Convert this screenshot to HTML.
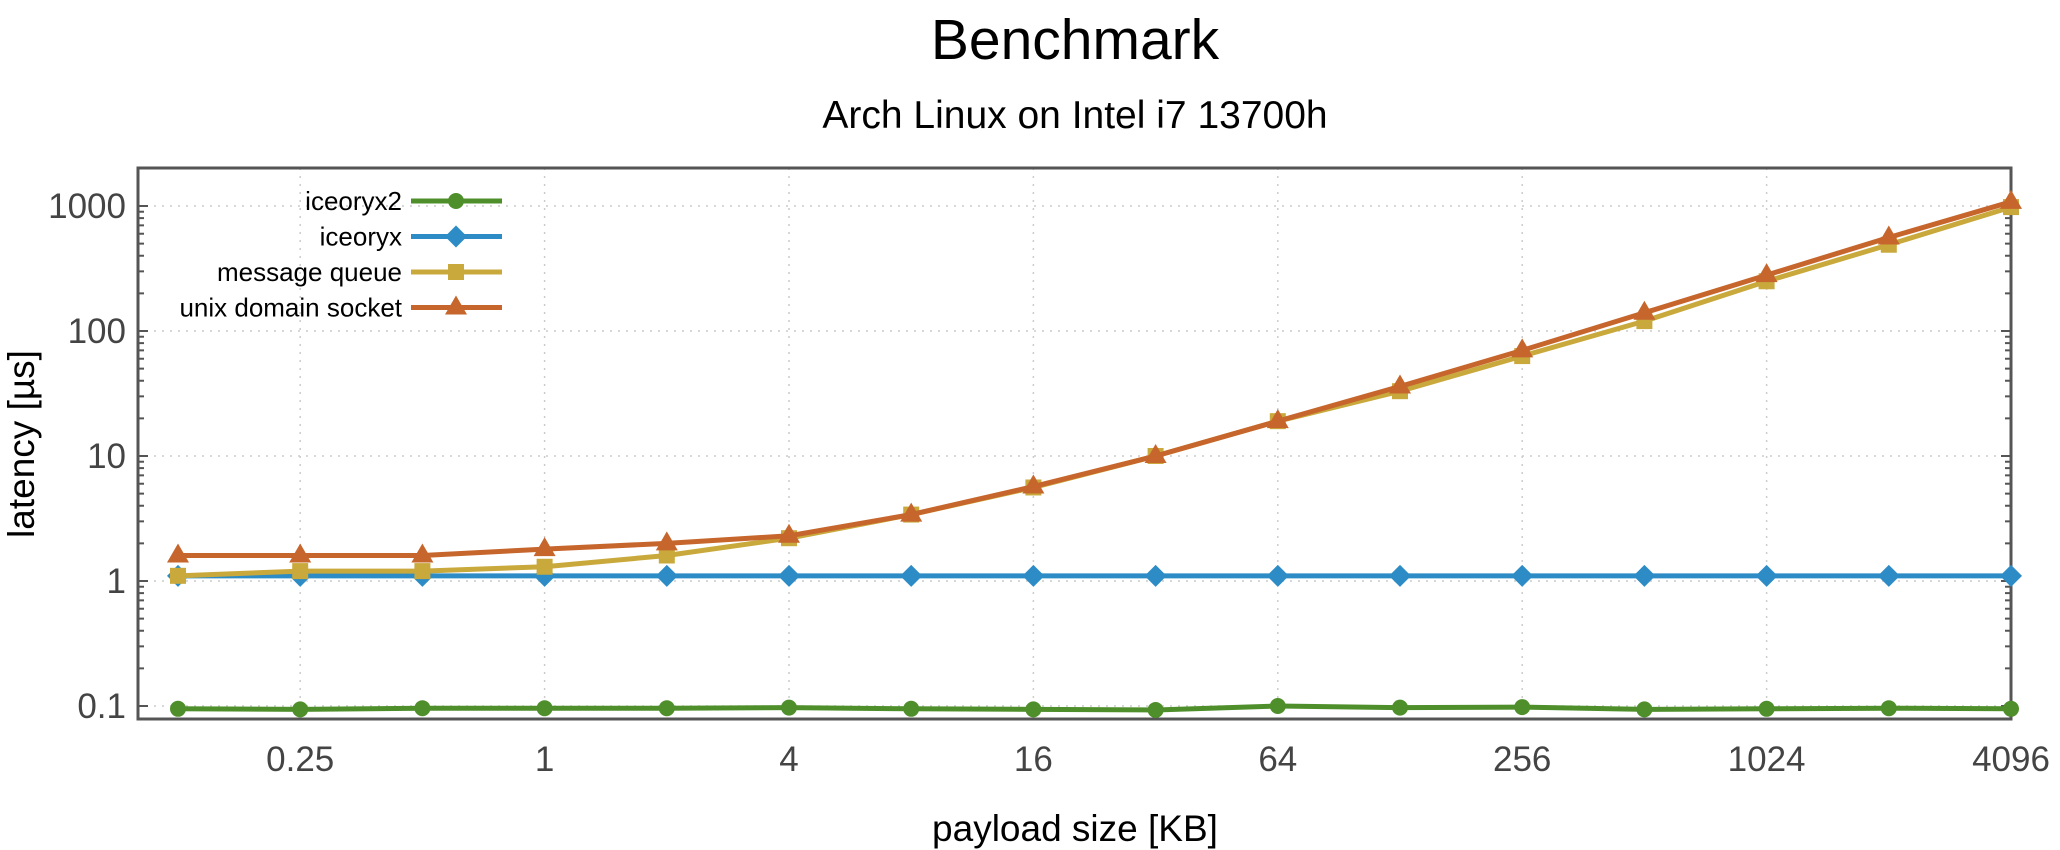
<!DOCTYPE html>
<html><head><meta charset="utf-8"><style>
html,body{margin:0;padding:0;background:#fff;}
svg{display:block;font-family:"Liberation Sans",sans-serif;}
</style></head><body>
<svg id="chart" width="2060" height="850" viewBox="0 0 2060 850" xmlns="http://www.w3.org/2000/svg">
<text x="1075" y="59" font-size="57" text-anchor="middle" fill="#000">Benchmark</text>
<text x="1075" y="128" font-size="39" text-anchor="middle" fill="#000">Arch Linux on Intel i7 13700h</text>
<g id="grid"></g><g id="axes"></g><g id="series"></g><g id="legend"></g>
<text x="1075" y="841" font-size="37" text-anchor="middle" fill="#000">payload size [KB]</text>
<text transform="translate(34,444) rotate(-90)" font-size="37" text-anchor="middle" fill="#000">latency [µs]</text>
</svg>
<script>
const payloads = [0.125,0.25,0.5,1,2,4,8,16,32,64,128,256,512,1024,2048,4096];
const iceoryx2 = [0.095,0.094,0.096,0.096,0.096,0.097,0.095,0.094,0.093,0.1,0.097,0.098,0.094,0.095,0.096,0.095];
const iceoryx = [1.1,1.1,1.1,1.1,1.1,1.1,1.1,1.1,1.1,1.1,1.1,1.1,1.1,1.1,1.1,1.1];
const messageQueue = [1.1,1.2,1.2,1.3,1.6,2.2,3.4,5.6,10,19,33,63,120,250,490,980];
const unixSocket = [1.6,1.6,1.6,1.8,2.0,2.3,3.4,5.7,10,19,36,70,140,280,560,1080];
const xTickLabels = ["0.25","1","4","16","64","256","1024","4096"];
const yTickLabels = ["0.1","1","10","100","1000"];

const NS="http://www.w3.org/2000/svg";
const L=138,R=2011,T=168,B=719;
function xs(v){return 2011-(Math.log2(4096)-Math.log2(v))*122.2;}
function ys(v){return 206+(3-Math.log10(v))*125;}
function mk(tag,attrs,parent){const e=document.createElementNS(NS,tag);for(const k in attrs)e.setAttribute(k,attrs[k]);parent.appendChild(e);return e;}
const grid=document.getElementById('grid'),axes=document.getElementById('axes'),ser=document.getElementById('series'),leg=document.getElementById('legend');

xTickLabels.forEach(t=>{const v=parseFloat(t),x=xs(v);
 const g=mk('line',{x1:x,x2:x,y1:T,y2:B,stroke:'#ccc','stroke-width':1.5,'stroke-dasharray':'2,6'},grid);
 
 
 const tx=mk('text',{x:x,y:771,'font-size':35,'text-anchor':'middle',fill:'#444'},axes);
 tx.textContent=t;
 
 
});
yTickLabels.forEach(t=>{const v=parseFloat(t),y=ys(v);
 const g=mk('line',{x1:L,x2:R,y1:y,y2:y,stroke:'#ccc','stroke-width':1.5,'stroke-dasharray':'2,6'},grid);
 
 
 const tx=mk('text',{x:126,y:y+12,'font-size':35,'text-anchor':'end',fill:'#444'},axes);
 tx.textContent=t;
 
 
 for(let m=1;m<=9;m++){const mv=v*m,my=ys(mv);if(my<T||my>B)continue;const len=m===1?10:6;
  mk('line',{x1:L,x2:L+len,y1:my,y2:my,stroke:'#555','stroke-width':2},axes);
  mk('line',{x1:R,x2:R-len,y1:my,y2:my,stroke:'#555','stroke-width':2},axes);}
});
const frame=mk('rect',{x:L,y:T,width:R-L,height:B-T,fill:'none',stroke:'#555','stroke-width':3},axes);



function marker(shape,x,y,color,parent){
 if(shape==='circle')return mk('circle',{cx:x,cy:y,r:8,fill:color},parent);
 if(shape==='diamond')return mk('polygon',{points:`${x},${y-11} ${x+11},${y} ${x},${y+11} ${x-11},${y}`,fill:color},parent);
 if(shape==='square')return mk('rect',{x:x-8,y:y-8,width:16,height:16,fill:color},parent);
 return mk('polygon',{points:`${x},${y-12} ${x+11},${y+7} ${x-11},${y+7}`,fill:color},parent);
}
const series=[
 {name:'iceoryx2',data:iceoryx2,color:'#4f8f2b',shape:'circle',key:'iceoryx2'},
 {name:'iceoryx',data:iceoryx,color:'#2d8cc5',shape:'diamond',key:'iceoryx'},
 {name:'message queue',data:messageQueue,color:'#c9a93c',shape:'square',key:'message-queue'},
 {name:'unix domain socket',data:unixSocket,color:'#c6662c',shape:'triangle',key:'unix-domain-socket'}
];
series.forEach((s,i)=>{
 const g=mk('g',{},ser);
 
 
 const pts=s.data.map((v,j)=>xs(payloads[j])+','+ys(v)).join(' ');
 const line=mk('polyline',{points:pts,fill:'none',stroke:s.color,'stroke-width':5,'stroke-linejoin':'round'},g);
 
 
 s.data.forEach((v,j)=>{const m=marker(s.shape,xs(payloads[j]),ys(v),s.color,g);
  
  });
 const ly=201+i*35.5;
 const lg=mk('g',{},leg);
 
 
 const lt=mk('text',{x:402,y:ly+9,'font-size':26,'text-anchor':'end',fill:'#000'},lg);
 lt.textContent=s.name;
 mk('line',{x1:411,x2:502,y1:ly,y2:ly,stroke:s.color,'stroke-width':5},lg);
 marker(s.shape,456,ly,s.color,lg);
});
</script>
</body></html>
